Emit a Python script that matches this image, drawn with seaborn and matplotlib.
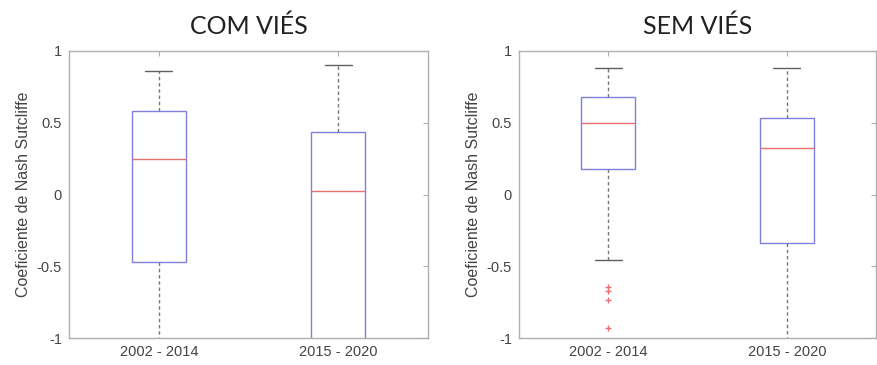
import matplotlib
matplotlib.use("Agg")
import matplotlib.pyplot as plt
import seaborn as sns

# ---- data ----
periods = ["2002 - 2014", "2015 - 2020"]
titles = ["COM VIÉS", "SEM VIÉS"]
ylabel = "Coeficiente de Nash Sutcliffe"
yticks = [-1, -0.5, 0, 0.5, 1]
ytick_labels = ["-1", "-0.5", "0", "0.5", "1"]

com_whishi = [0.86, 0.905]
com_q3 = [0.58, 0.435]
com_med = [0.245, 0.025]
com_q1 = [-0.47, -1.10]
com_whislo = [-1.20, -1.30]
com_fliers = [[], []]

sem_whishi = [0.88, 0.88]
sem_q3 = [0.68, 0.535]
sem_med = [0.495, 0.325]
sem_q1 = [0.175, -0.335]
sem_whislo = [-0.455, -1.10]
sem_fliers = [[-0.645, -0.67, -0.735, -0.93], []]


def make_stats(whishi, q3, med, q1, whislo, fliers):
    return [dict(label=periods[i], whishi=whishi[i], q3=q3[i], med=med[i],
                 q1=q1[i], whislo=whislo[i], fliers=fliers[i])
            for i in range(len(periods))]


panels = [
    make_stats(com_whishi, com_q3, com_med, com_q1, com_whislo, com_fliers),
    make_stats(sem_whishi, sem_q3, sem_med, sem_q1, sem_whislo, sem_fliers),
]

sns.set_style("white")
plt.rcParams["font.family"] = ["Liberation Sans", "DejaVu Sans"]

fig = plt.figure(figsize=(8.77, 3.65), dpi=100)
axes_rects = [
    [69 / 877, 27 / 365, 359 / 877, 287 / 365],
    [519 / 877, 27 / 365, 357 / 877, 287 / 365],
]

box_color = "#8080dc"
med_color = "#e87070"
whisk_color = "#787878"
spine_color = "#b0b0b0"
text_color = "#444444"

for rect, stats, title in zip(axes_rects, panels, titles):
    ax = fig.add_axes(rect)
    ax.bxp(stats, positions=[1, 2], widths=0.3, capwidths=0.15,
           showfliers=True, patch_artist=False,
           boxprops=dict(color=box_color, linewidth=1.0),
           medianprops=dict(color=med_color, linewidth=1.0),
           whiskerprops=dict(color=whisk_color, linewidth=1.0, linestyle=(0, (2.5, 2))),
           capprops=dict(color="#606060", linewidth=1.0),
           flierprops=dict(marker="+", markeredgecolor=med_color, markersize=5,
                           linestyle="none"))
    ax.set_xlim(0.5, 2.5)
    ax.set_ylim(-1, 1)
    ax.set_yticks(yticks)
    ax.set_yticklabels(ytick_labels)
    ax.set_xticks([1, 2])
    ax.set_xticklabels(periods)
    ax.tick_params(direction="in", top=True, right=True, length=3.5,
                   color=spine_color, labelcolor=text_color, labelsize=10.5,
                   pad=5)
    for s in ax.spines.values():
        s.set_color(spine_color)
        s.set_linewidth(1.0)
    ax.set_ylabel(ylabel, fontsize=11.5, color=text_color, labelpad=4)
    ax.set_title(title, fontsize=18, family=["Lato", "DejaVu Sans"],
                 color="#222222", pad=12)

fig.savefig("out.png", dpi=100, facecolor="white")
